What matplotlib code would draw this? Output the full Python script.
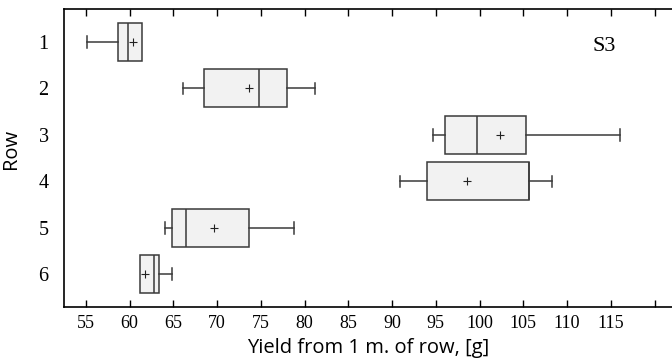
import matplotlib
matplotlib.use("Agg")
import matplotlib.pyplot as plt

# box statistics per row
rows = ["1", "2", "3", "4", "5", "6"]
whis_lo = [55.1, 66.1, 94.7, 90.9, 64.1, 61.2]
q1 = [58.7, 68.5, 96.0, 94.0, 64.8, 61.2]
median = [59.8, 74.8, 99.7, 105.7, 66.4, 62.8]
q3 = [61.4, 78.0, 105.3, 105.7, 73.6, 63.4]
whis_hi = [61.4, 81.2, 116.1, 108.3, 78.8, 64.8]
mean = [60.4, 73.7, 102.3, 98.6, 69.6, 61.8]

x_ticks = [55, 60, 65, 70, 75, 80, 85, 90, 95, 100, 105, 110, 115, 120]
x_labels = [str(t) for t in x_ticks[:-1]] + [""]

serif = "Liberation Serif"
sans = "Open Sans"

stats = []
for i, r in enumerate(rows):
    stats.append(dict(label=r, whislo=whis_lo[i], q1=q1[i], med=median[i],
                      q3=q3[i], whishi=whis_hi[i], mean=mean[i], fliers=[]))

fig = plt.figure(figsize=(6.72, 3.62), dpi=100)
ax = fig.add_axes([0.0952, 0.1527, 0.9048, 0.8211])

edge = "#3a3a3a"
parts = ax.bxp(stats, positions=range(1, len(rows) + 1), vert=False,
               widths=0.82, patch_artist=True, showmeans=True, showcaps=True,
               boxprops=dict(facecolor="#f2f2f2", edgecolor=edge, linewidth=1.1),
               medianprops=dict(color=edge, linewidth=1.1),
               whiskerprops=dict(color=edge, linewidth=1.1),
               capprops=dict(color=edge, linewidth=1.1),
               capwidths=0.25,
               meanprops=dict(marker="+", markeredgecolor="#222222",
                              markersize=5.5, markeredgewidth=0.8))

# no cap where the whisker has zero length
for i in range(len(rows)):
    if whis_lo[i] >= q1[i]:
        parts["caps"][2 * i].set_visible(False)
    if whis_hi[i] <= q3[i]:
        parts["caps"][2 * i + 1].set_visible(False)

ax.set_xlim(52.5, 122.0)
ax.set_ylim(6.7, 0.3)
ax.set_xticks(x_ticks)
ax.set_xticklabels(x_labels, fontfamily=serif, fontsize=13)
ax.set_yticks(range(1, len(rows) + 1))
ax.set_yticklabels(rows, fontfamily=serif, fontsize=14.5)
ax.tick_params(axis="x", direction="in", top=True, length=5, width=1.0, pad=6)
ax.tick_params(axis="y", length=0, pad=11)

ax.spines["right"].set_visible(False)
for s in ["left", "top", "bottom"]:
    ax.spines[s].set_linewidth(1.2)

ax.set_xlabel("Yield from 1 m. of row, [g]", fontfamily=sans, fontsize=14.5,
              labelpad=4)
ax.set_ylabel("Row", fontfamily=sans, fontsize=14.5)
ax.yaxis.set_label_coords(-0.07, 0.53)

ax.text(112.9, 1.1, "S3", fontfamily=serif, fontsize=16, va="center",
        ha="left")

fig.savefig("out.png", dpi=100)
